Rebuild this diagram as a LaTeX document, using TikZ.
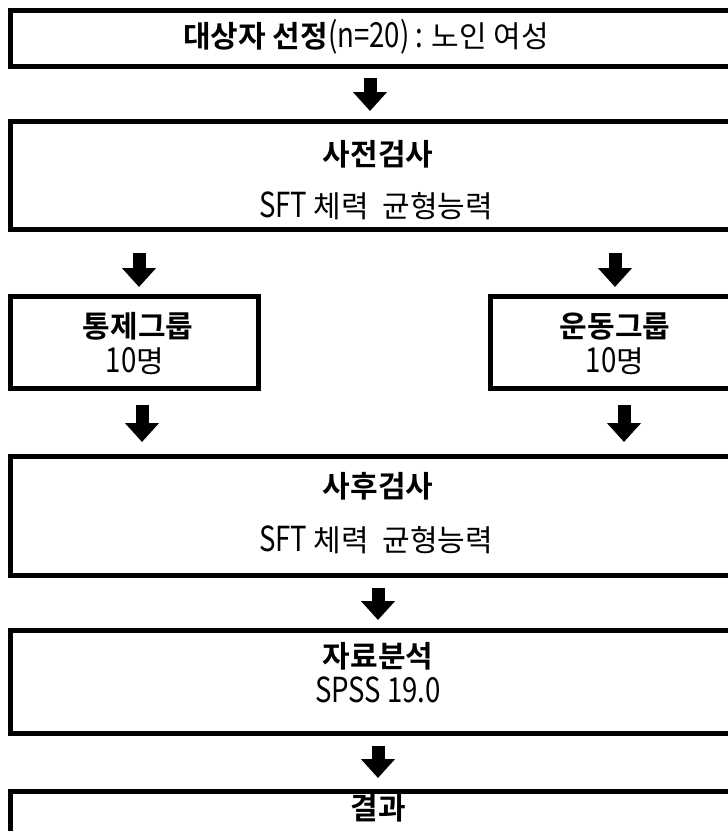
\documentclass[tikz,border=0pt]{standalone}
\usepackage{fontspec}
\setmainfont{Noto Sans CJK KR}[BoldFont={Noto Sans CJK KR Bold}]
\newfontfamily\latn{Noto Sans CJK KR}[FakeStretch=0.8,Scale=1.15]
\usetikzlibrary{arrows.meta}
\tikzset{
  boxframe/.style={draw=black, line width=5pt, line join=miter},
  bigarrow/.style={line width=13pt, -{Triangle[length=19pt 0 0, width=33pt 0 0]}},
  lbl/.style={inner sep=0pt, anchor=center, font=\fontsize{30}{32}\selectfont},
}
\begin{document}
\begin{tikzpicture}[x=1pt,y=-1pt]
\useasboundingbox (0,0) rectangle (728,831);
\clip (0,0) rectangle (728,831);
% boxes
\draw[boxframe] (10,10) rectangle (760,66);
\draw[boxframe] (10,121) rectangle (760,229);
\draw[boxframe] (10,296) rectangle (258,388);
\draw[boxframe] (490,296) rectangle (760,388);
\draw[boxframe] (10,456) rectangle (760,575);
\draw[boxframe] (10,630) rectangle (760,733);
\draw[boxframe] (10,791) rectangle (760,860);
% texts
\node[lbl] (t1) at (366,37) {\textbf{대상자 선정}{\latn(n=20) : }노인 여성};
\node[lbl] (t2a) at (378,154) {\textbf{사전검사}};
\node[lbl] (t2b) at (376,206) {{\latn SFT} 체력\ \ 균형능력};
\node[lbl] (t3a) at (138,326) {\textbf{통제그룹}};
\node[lbl] (t3b) at (135,361) {{\latn 10}명};
\node[lbl] (t4a) at (615,326) {\textbf{운동그룹}};
\node[lbl] (t4b) at (615,361) {{\latn 10}명};
\node[lbl] (t5a) at (378,486) {\textbf{사후검사}};
\node[lbl] (t5b) at (376,540) {{\latn SFT} 체력\ \ 균형능력};
\node[lbl] (t6a) at (378,656) {\textbf{자료분석}};
\node[lbl] (t6b) at (378,690) {\latn SPSS 19.0};
\node[lbl] (t7) at (378,808) {\textbf{결과}};
% arrow endpoints
\coordinate (a1s) at (370,78);  \coordinate (a1e) at (370,111);
\coordinate (a2s) at (139,253); \coordinate (a2e) at (139,287);
\coordinate (a3s) at (615,253); \coordinate (a3e) at (615,287);
\coordinate (a4s) at (142,405); \coordinate (a4e) at (142,442);
\coordinate (a5s) at (624,405); \coordinate (a5e) at (624,442);
\coordinate (a6s) at (378,588); \coordinate (a6e) at (378,620);
\coordinate (a7s) at (378,746); \coordinate (a7e) at (378,778);
\foreach \i in {1,...,7}{\draw[bigarrow] (a\i s) -- (a\i e);}
\end{tikzpicture}
\end{document}
